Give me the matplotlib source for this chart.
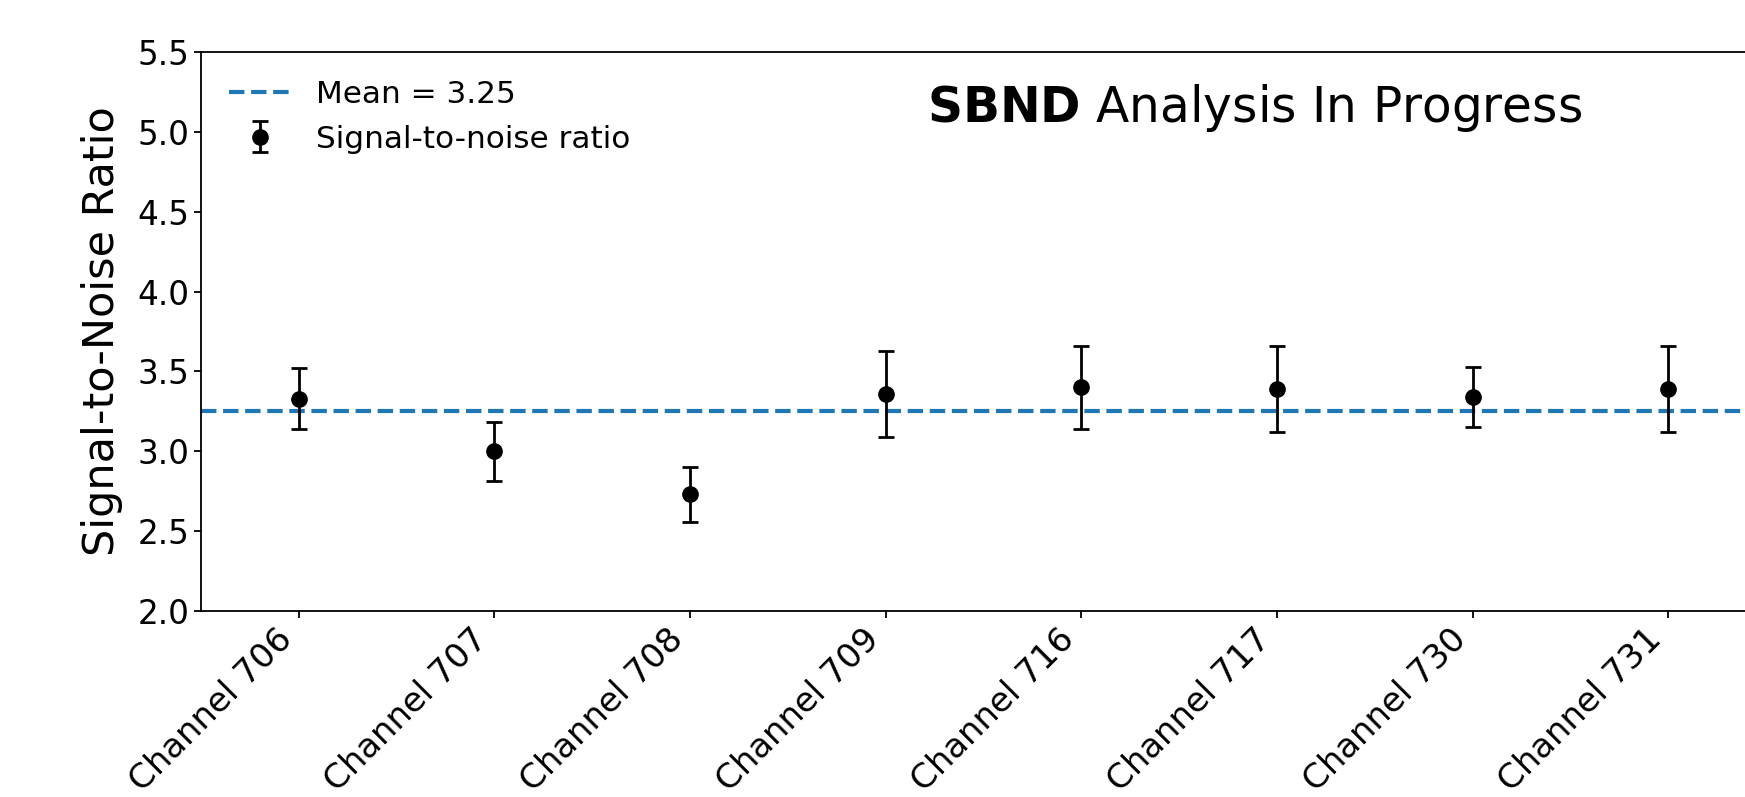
import matplotlib
matplotlib.use("Agg")
import matplotlib.pyplot as plt

# channel data
channels = ['Channel 706', 'Channel 707', 'Channel 708', 'Channel 709',
            'Channel 716', 'Channel 717', 'Channel 730', 'Channel 731']
snr = [3.33, 3.00, 2.73, 3.36, 3.40, 3.39, 3.34, 3.39]
snr_err = [0.19, 0.185, 0.17, 0.27, 0.26, 0.27, 0.19, 0.27]
mean_snr = 3.25

fig = plt.figure(figsize=(17.45, 7.97), dpi=100)
# axes runs past the right edge, as in the cropped screenshot
ax = fig.add_axes([0.1152, 0.2334, 0.8968, 0.7014])

x = list(range(len(channels)))
ax.axhline(mean_snr, color='C0', linestyle='--', linewidth=3, label='Mean = %.2f' % mean_snr)
ax.errorbar(x, snr, yerr=snr_err, fmt='o', color='black', markersize=11,
            elinewidth=2, capsize=6, capthick=2, label='Signal-to-noise ratio')

ax.set_xlim(-0.5, len(channels) - 0.5)
ax.set_ylim(2.0, 5.5)
ax.set_xticks(x)
ax.set_xticklabels(channels, rotation=45, ha='right', fontsize=24.5)
ax.set_ylabel('Signal-to-Noise Ratio', fontsize=31, labelpad=10)
ax.tick_params(axis='y', labelsize=23.5)
ax.tick_params(length=5, width=1.3)
for s in ax.spines.values():
    s.set_linewidth(1.3)

ax.legend(loc='upper left', fontsize=22.4, frameon=False)
ax.text(0.464, 0.900, r'$\bf{SBND}$ Analysis In Progress', transform=ax.transAxes,
        fontsize=35, ha='left', va='center')

fig.savefig('out.png', dpi=100)
